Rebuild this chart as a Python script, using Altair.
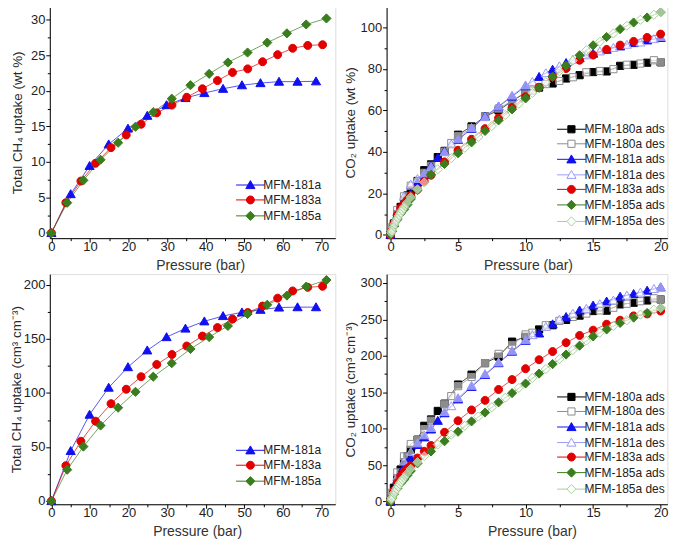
import altair as alt
import pandas as pd

# ---------------- CH4 data (left panels) ----------------
CH4_NAMES = ["MFM-181a", "MFM-183a", "MFM-185a"]
P_181 = [0, 5.0, 9.9, 14.85, 19.85, 24.85, 29.85, 34.75, 39.65, 44.5, 49.4, 54.2, 59.0, 63.8, 68.6]
CH4_WT_181 = [0, 5.47, 9.44, 12.48, 14.7, 16.5, 18.0, 19.0, 19.7, 20.3, 20.8, 21.1, 21.3, 21.3, 21.35]
CH4_V_181 = [0, 46.4, 80.0, 105.0, 124.0, 139.5, 151.8, 159.7, 166.4, 171.3, 174.7, 177.1, 179.2, 179.5, 179.5]

P_183 = [0, 3.75, 7.65, 11.45, 15.45, 19.4, 23.25, 27.3, 31.25, 35.1, 39.15, 43.05, 46.95, 50.9, 54.75, 58.65, 62.55, 66.45, 70.3]
CH4_WT_183 = [0, 4.25, 7.3, 9.8, 12.0, 13.8, 15.3, 16.9, 18.0, 19.1, 20.3, 21.45, 22.6, 23.1, 24.1, 25.1, 26.0, 26.4, 26.5]
CH4_V_183 = [0, 32.7, 55.3, 73.9, 90.1, 103.5, 115.1, 126.4, 135.6, 143.5, 152.7, 160.6, 168.5, 174.5, 180.5, 187.8, 194.5, 197.9, 198.8]

P_185 = [0, 4.1, 8.3, 12.75, 17.3, 21.8, 26.4, 31.2, 36.05, 40.9, 45.75, 50.85, 55.95, 61.05, 66.05, 71.3]
CH4_WT_185 = [0, 4.25, 7.4, 10.3, 12.7, 14.95, 17.0, 18.9, 20.8, 22.4, 24.0, 25.4, 26.8, 28.1, 29.35, 30.2]
CH4_V_185 = [0, 29.0, 50.4, 69.9, 86.4, 101.1, 115.1, 127.6, 140.8, 151.8, 162.1, 173.1, 181.7, 190.2, 198.5, 204.6]

# ---------------- CO2 data (right panels) ----------------
CO2_NAMES = ["MFM-180a ads", "MFM-180a des", "MFM-181a ads", "MFM-181a des",
             "MFM-183a ads", "MFM-185a ads", "MFM-185a des"]

P_180_ADS = [0, 0.25, 0.5, 0.75, 1.0, 1.25, 1.5, 2.0, 2.5, 3.0, 3.5, 4.0, 5, 6, 7, 8, 9, 10, 11, 12, 13, 14, 15, 16, 17, 18, 19, 20]
CO2_WT_180_ADS = [0, 5.5, 10, 13.5, 16.5, 19, 21.5, 26, 31.2, 34, 37.5, 40.5, 48.3, 52.3, 57.1, 60, 64.5, 68.5, 71, 73, 75.4, 77, 78.5, 78.8, 81.5, 82, 83, 83.2]
CO2_V_180_ADS = [0, 19, 32, 44, 54, 62, 71, 85, 104, 112.7, 124.4, 134.4, 160.6, 174.2, 190, 199, 219.5, 226.2, 236.2, 242, 249.3, 255.2, 261.5, 262, 270.6, 272.9, 276, 277.4]

P_180_DES = [20, 19.5, 18.5, 17.5, 16.5, 15.5, 14.5, 13.5, 12.5, 11.5, 10.5, 10, 9, 8, 7, 6, 5, 4.5, 4, 3, 2.5, 2, 1.5, 1.0, 0.5, 0.1]
CO2_WT_180_DES = [83.3, 84.2, 82.6, 82.0, 79.9, 79.0, 78.4, 76.0, 74.2, 72.7, 69.6, 68.9, 64.6, 60.9, 57.1, 51.4, 47.6, 44.3, 40.1, 33.3, 29.9, 25.5, 23.7, 18.6, 12.0, 3.6]
CO2_V_180_DES = [277.4, 279, 275, 271.5, 266, 262.4, 258, 253.4, 248, 242, 231.7, 229.4, 215, 202.7, 190, 171, 158.4, 144.8, 133.5, 111, 99.5, 85, 79, 62, 40, 12]

P_181_ADS = [0, 0.25, 0.5, 0.75, 1.0, 1.25, 1.5, 2.0, 2.5, 3.0, 3.5, 4.0, 5, 6, 7, 8, 9, 10, 11, 12, 13, 14, 15, 16, 17, 18, 19, 20]
CO2_WT_181_ADS = [0, 5.8, 9.7, 13, 15.6, 17.5, 19.8, 25.3, 29, 33.3, 37.1, 40.3, 45.8, 51.2, 57.1, 61.9, 66.7, 71.7, 76.2, 79.7, 82.9, 85.3, 87.4, 89.3, 90.9, 92.5, 93.8, 95.0]
CO2_V_181_ADS = [0, 18, 30, 40, 48, 54, 59.3, 77.8, 88.2, 99, 110.9, 121.3, 140.3, 157.5, 173.8, 190, 205.9, 220.8, 230.8, 243.4, 253.4, 262.4, 269.2, 274.7, 281.4, 285, 289.6, 294.1]

P_181_DES = [20, 19.5, 18.5, 17.5, 16.5, 15.5, 14.5, 13.5, 12.5, 11.5, 10.5, 10, 9, 8, 7, 6, 5, 4.5, 4, 3, 2.5, 2, 1.5, 1.0, 0.5, 0.1]
CO2_WT_181_DES = [95.5, 94.4, 92.8, 91.7, 90.2, 88.5, 86.6, 84.5, 81.3, 78.0, 73.8, 72.1, 67.2, 62.0, 56.8, 51.6, 46.1, 43.7, 39.9, 32.8, 29.5, 27.0, 24.3, 18.5, 11.0, 3.2]
CO2_V_181_DES = [294.1, 291.9, 286.9, 282.8, 276, 271, 264.7, 258, 249.8, 239.8, 228.5, 222, 207, 191, 175, 159, 142, 131, 123, 101, 91, 80, 68, 55, 34, 10]

P_183_ADS = [0, 0.1, 0.25, 0.5, 0.75, 1.0, 1.25, 1.5, 2.0, 2.5, 3.0, 4.0, 5, 6, 7, 8, 9, 10, 11, 12, 13, 14, 15, 16, 17, 18, 19, 20]
CO2_WT_183_ADS = [0, 2.2, 5.5, 9.6, 12.9, 15.1, 16.9, 18.9, 21.9, 25.8, 28.8, 35.2, 40.8, 46.1, 51.2, 56.3, 61.4, 66.6, 71.2, 76.2, 80.2, 84.2, 86.7, 89.4, 91.5, 93.3, 95.2, 96.8]
CO2_V_183_ADS = [0, 6, 15, 26, 35, 41, 45.5, 49, 59.7, 69, 76.9, 95, 110.9, 125.8, 138.9, 153.8, 167.4, 182.4, 194.6, 205.9, 218.1, 228, 235.3, 243.4, 248.9, 254.8, 257.5, 261.5]

P_185_ADS = [0, 0.1, 0.25, 0.5, 0.75, 1.0, 1.25, 1.5, 2.0, 3.0, 4.0, 5, 6, 7, 8, 9, 10, 11, 12, 13, 14, 15, 16, 17, 18, 19, 20]
CO2_WT_185_ADS = [0, 1.6, 4.0, 7.3, 10.2, 12.2, 14.6, 17.3, 21.6, 29.0, 34.2, 39.4, 44.6, 50.1, 55.2, 60.5, 65.8, 70.9, 76.2, 81.6, 86.6, 91.4, 95.4, 99.2, 102.4, 104.8, 107.4]
CO2_V_185_ADS = [0, 4, 10, 18, 25, 30, 36, 42.1, 52.5, 68.8, 82.8, 95.9, 110, 122.2, 136.2, 148.9, 162, 175.6, 188.7, 201.8, 214, 226.7, 236.2, 245.2, 252.5, 258.8, 265.6]

P_185_DES = [20, 19.5, 18.5, 17.5, 16.5, 15.5, 14.5, 13.5, 12.5, 11.5, 10.5, 9.5, 8.5, 7.5, 6.5, 5.5, 4.5, 3.5, 2.5, 2.0, 1.5, 1.2, 1.0, 0.9, 0.8, 0.7, 0.6, 0.5, 0.4, 0.3, 0.2, 0.1, 0.05]
CO2_WT_185_DES = [107.4, 106.1, 103.7, 100.8, 97.1, 93.1, 89, 84, 78.9, 73.6, 68.4, 63.2, 57.8, 52.5, 47.2, 42, 37, 31.6, 25.3, 22, 18.2, 15.3, 13.4, 12.3, 11.3, 10.2, 9.1, 7.9, 6.7, 5.3, 3.7, 2.1, 1.0]
CO2_V_185_DES = [265.6, 263.3, 256.6, 248.9, 241.2, 231.7, 220.8, 208, 195.5, 181.9, 169.7, 156, 142.5, 129.4, 116.7, 104, 91.9, 78.3, 62.4, 54, 45, 38, 33, 30.5, 28, 25.5, 22.5, 19.5, 16.5, 13, 9, 5, 2.5]

# ---------------- styles ----------------
BLUE, RED, GREEN = "#1010F0", "#E00000", "#3A7D1E"
CH4_STROKE = [BLUE, RED, GREEN]
CH4_FILL = [BLUE, RED, GREEN]
CO2_STROKE = ["#000000", "#8C8C8C", BLUE, "#9A9AF5", RED, GREEN, "#A6D196"]
WH = "rgba(255,255,255,0.55)"
CO2_FILL = ["#000000", WH, BLUE, WH, RED, GREEN, WH]

SQ = "M-0.9,-0.9H0.9V0.9H-0.9Z"
TRI = "M0,-1.1L1.15,0.9L-1.15,0.9Z"
CIR = "M-1,0A1,1,0,1,1,1,0A1,1,0,1,1,-1,0Z"
DIA = "M0,-1.15L1.15,0L-0,1.15L-1.15,0Z"
L = 3.6
LSQ = f"M-{L},0H-0.9M0.9,0H{L}" + SQ
LTRI = f"M-{L},0H-0.6M0.6,0H{L}" + TRI
LCIR = f"M-{L},0H-1M1,0H{L}" + CIR
LDIA = f"M-{L},0H-1.15M1.15,0H{L}" + DIA

CH4_SHAPE = [TRI, CIR, DIA]
CH4_LSHAPE = [LTRI, LCIR, LDIA]
CO2_SHAPE = [SQ, SQ, TRI, TRI, CIR, DIA, DIA]
CO2_LSHAPE = [LSQ, LSQ, LTRI, LTRI, LCIR, LDIA, LDIA]

FONT = "Liberation Sans"


def long_df(items):
    rows = []
    for name, P, U in items:
        for i, (p, u) in enumerate(zip(P, U)):
            rows.append({"series": name, "P": p, "U": u, "i": i})
    return pd.DataFrame(rows)


def panel(df, names, strokes, fills, shapes, lshapes, xdom, ydom, xmaj, xmin,
          ymaj, ymin, ytitle, w, h, lx, ly, ytp, xtx, rowpad):
    xs = alt.Scale(domain=xdom, nice=False, zero=False)
    ys = alt.Scale(domain=ydom, nice=False, zero=False)
    common = dict(grid=False, labelFont=FONT, titleFont=FONT, labelFontSize=13,
                  titleFontWeight=400, labelColor="#222",
                  domainColor="#000", tickColor="#000",
                  labelFlush=False, labelOverlap=False)
    ax_x = alt.Axis(values=xmaj, title="Pressure (bar)", orient="bottom", tickSize=4,
                    labelPadding=-1.5, titleX=xtx, titleY=20.5, titleBaseline="top",
                    titleAlign="center", titleFontSize=14, titleColor="#333",
                    format="d", **common)
    ax_xm = alt.Axis(values=xmin, labels=False, title=None, orient="bottom", tickSize=2.5,
                     domain=False, grid=False, tickColor="#000")
    ax_y = alt.Axis(values=ymaj, title=ytitle, orient="left", tickSize=4,
                    labelPadding=1, titlePadding=ytp, titleFontSize=13.5, titleColor="#2a2a2a",
                    format="d", **common)
    ax_ym = alt.Axis(values=ymin, labels=False, title=None, orient="left", tickSize=2.5,
                     domain=False, grid=False, tickColor="#000")
    base = alt.Chart(df)
    lines = base.mark_line(strokeWidth=1, opacity=0.7).encode(
        x=alt.X("P:Q", scale=xs, axis=ax_x),
        y=alt.Y("U:Q", scale=ys, axis=ax_y),
        stroke=alt.Stroke("series:N", scale=alt.Scale(domain=names, range=strokes), legend=None),
        detail="series:N",
    )
    pts = base.mark_point(opacity=1, strokeWidth=1, size=64).encode(
        x=alt.X("P:Q", scale=xs, axis=ax_xm),
        y=alt.Y("U:Q", scale=ys, axis=ax_ym),
        stroke=alt.Stroke("series:N", scale=alt.Scale(domain=names, range=strokes), legend=None),
        fill=alt.Fill("series:N", scale=alt.Scale(domain=names, range=fills), legend=None),
        shape=alt.Shape("series:N", scale=alt.Scale(domain=names, range=shapes), legend=None),
    )
    leg = alt.Legend(title=None, orient="none", legendX=lx, legendY=ly, symbolSize=64,
                     symbolStrokeWidth=1, symbolOpacity=1, labelFont=FONT, labelFontSize=12,
                     labelColor="#222", labelOffset=7, rowPadding=rowpad, padding=0)
    legl = base.mark_point(opacity=1, strokeWidth=1, size=64).encode(
        x=alt.X("P:Q", scale=xs, axis=None),
        y=alt.Y("U:Q", scale=ys, axis=None),
        stroke=alt.Stroke("series:N", scale=alt.Scale(domain=names, range=strokes), legend=leg),
        fill=alt.Fill("series:N", scale=alt.Scale(domain=names, range=fills), legend=leg),
        shape=alt.Shape("series:N", scale=alt.Scale(domain=names, range=lshapes), legend=leg),
    ).transform_filter("datum.P < -1000")
    return alt.layer(lines, pts, legl).resolve_scale(
        stroke="independent", fill="independent", shape="independent"
    ).resolve_axis(x="independent", y="independent").properties(width=w, height=h)


df_tl = long_df([(CH4_NAMES[0], P_181, CH4_WT_181), (CH4_NAMES[1], P_183, CH4_WT_183),
                 (CH4_NAMES[2], P_185, CH4_WT_185)])
df_bl = long_df([(CH4_NAMES[0], P_181, CH4_V_181), (CH4_NAMES[1], P_183, CH4_V_183),
                 (CH4_NAMES[2], P_185, CH4_V_185)])
df_tr = long_df([
    (CO2_NAMES[0], P_180_ADS, CO2_WT_180_ADS), (CO2_NAMES[1], P_180_DES, CO2_WT_180_DES),
    (CO2_NAMES[2], P_181_ADS, CO2_WT_181_ADS), (CO2_NAMES[3], P_181_DES, CO2_WT_181_DES),
    (CO2_NAMES[4], P_183_ADS, CO2_WT_183_ADS), (CO2_NAMES[5], P_185_ADS, CO2_WT_185_ADS),
    (CO2_NAMES[6], P_185_DES, CO2_WT_185_DES)])
df_br = long_df([
    (CO2_NAMES[0], P_180_ADS, CO2_V_180_ADS), (CO2_NAMES[1], P_180_DES, CO2_V_180_DES),
    (CO2_NAMES[2], P_181_ADS, CO2_V_181_ADS), (CO2_NAMES[3], P_181_DES, CO2_V_181_DES),
    (CO2_NAMES[4], P_183_ADS, CO2_V_183_ADS), (CO2_NAMES[5], P_185_ADS, CO2_V_185_ADS),
    (CO2_NAMES[6], P_185_DES, CO2_V_185_DES)])

LX_MAJ = [0, 10, 20, 30, 40, 50, 60, 70]
LX_MIN = [5, 15, 25, 35, 45, 55, 65]
RX_MAJ = [0, 5, 10, 15, 20]
RX_MIN = [2.5, 7.5, 12.5, 17.5]

tl = panel(df_tl, CH4_NAMES, CH4_STROKE, CH4_FILL, CH4_SHAPE, CH4_LSHAPE,
           [-0.41, 73.6], [-0.74, 31.88], LX_MAJ, LX_MIN,
           [0, 5, 10, 15, 20, 25, 30], [2.5, 7.5, 12.5, 17.5, 22.5, 27.5],
           "Total CH₄ uptake (wt %)", 286.8, 232.7, 195.5, 173.3, 5.5, 151, 3)
tr = panel(df_tr, CO2_NAMES, CO2_STROKE, CO2_FILL, CO2_SHAPE, CO2_LSHAPE,
           [-0.29, 20.5], [-1.58, 110.1], RX_MAJ, RX_MIN,
           [0, 20, 40, 60, 80, 100], [10, 30, 50, 70, 90],
           "CO₂ uptake (wt %)", 282.1, 232.7, 179.7, 117.3, 3, 142, 2.6)
bl = panel(df_bl, CH4_NAMES, CH4_STROKE, CH4_FILL, CH4_SHAPE, CH4_LSHAPE,
           [-0.41, 73.6], [-3.0, 210.1], LX_MAJ, LX_MIN,
           [0, 50, 100, 150, 200], [25, 75, 125, 175],
           "Total CH₄ uptake (cm³ cm⁻³)", 286.8, 231.2, 195.5, 171, 0, 148, 3)
br = panel(df_br, CO2_NAMES, CO2_STROKE, CO2_FILL, CO2_SHAPE, CO2_LSHAPE,
           [-0.29, 20.5], [-3.7, 312.2], RX_MAJ, RX_MIN,
           [0, 50, 100, 150, 200, 250, 300], [25, 75, 125, 175, 225, 275],
           "CO₂ uptake (cm³ cm⁻³)", 282.1, 231.2, 179.7, 117.4, 3, 146, 2.6)

chart = alt.concat(tl, tr, bl, br, columns=2, spacing={"row": 35.8, "column": 51.3},
                   bounds="flush", align="each").properties(
    padding={"left": 0, "top": -4.7, "right": 0, "bottom": 0}
).configure_view(stroke=None).configure_axis(titleFontWeight=400).configure(background="white")

chart.save("out.html", embed_options={"renderer": "svg", "actions": False})
